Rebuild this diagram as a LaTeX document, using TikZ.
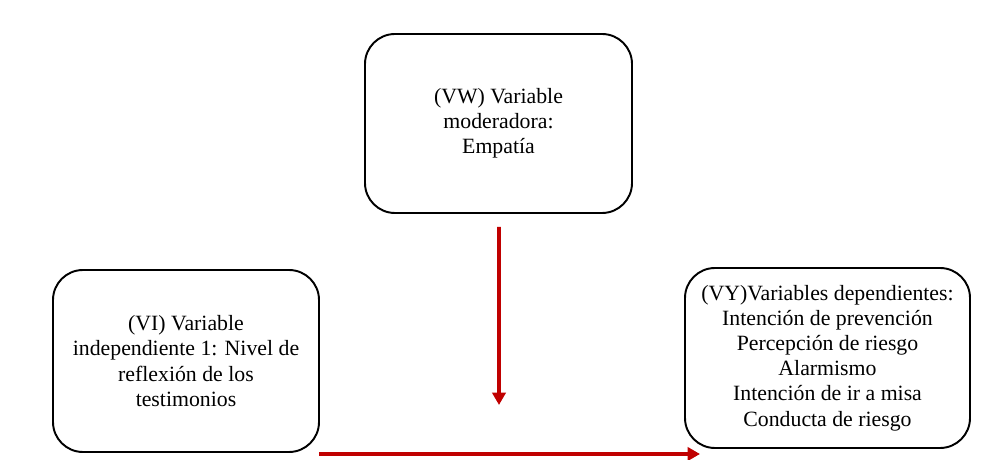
\documentclass[tikz,border=0pt]{standalone}
\usepackage{fontspec}
\setmainfont{Liberation Serif}
\usepackage{tikz}
\usetikzlibrary{arrows.meta}

\definecolor{rojo}{RGB}{192,0,0}

\begin{document}
\begin{tikzpicture}[
  caja/.style={rectangle, draw, line width=1.1pt, rounded corners=0.6cm, align=center,
               font=\fontsize{12.4}{14.3}\selectfont, inner sep=0pt},
  flecha/.style={rojo, line width=2pt, -{Triangle[length=7pt,width=7.5pt]}}
]
\useasboundingbox (0,0) rectangle (19.66,9.18);

\draw (9.97,6.71)     node (vw) [caja, minimum width=5.34cm, minimum height=3.58cm] {(VW) Variable\\moderadora:\\Empatía} ;

\draw (3.72,1.96)     node (vi) [caja, minimum width=5.32cm, minimum height=3.64cm] {(VI) Variable\\independiente 1: Nivel de\\reflexión de los\\testimonios} ;

\draw (16.55,2.02)    node (vy) [caja, minimum width=5.7cm, minimum height=3.6cm] {(VY)Variables dependientes:\\Intención de prevención\\Percepción de riesgo\\Alarmismo\\Intención de ir a misa\\Conducta de riesgo} ;

\coordinate (abajo) at (9.98,1.08) ;
\coordinate (ini)   at (6.38,0.10) ;
\coordinate (fin)   at (14.0,0.10) ;

\draw[flecha] (vw.south) ++(0.01,-0.26) -- (abajo) ;
\draw[flecha] (ini) -- (fin) ;

\end{tikzpicture}
\end{document}
